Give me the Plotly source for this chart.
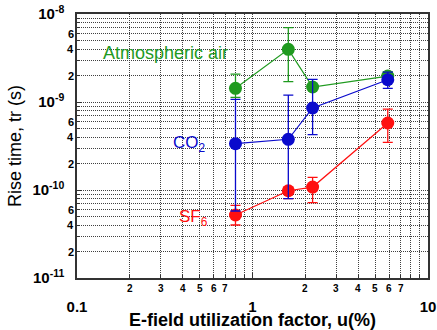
import plotly.graph_objects as go
import numpy as np

# ---- data ----
u_percent = [0.8, 1.6, 2.2, 5.9]

air_tr = [1.43e-9, 3.97e-9, 1.48e-9, 1.97e-9]
air_hi = [2.07e-9, 6.99e-9, 1.60e-9, 2.20e-9]
air_lo = [1.13e-9, 1.70e-9, 1.38e-9, 1.80e-9]

co2_tr = [3.36e-10, 3.77e-10, 8.55e-10, 1.79e-9]
co2_hi = [1.07e-9, 1.20e-9, 1.81e-9, 2.18e-9]
co2_lo = [5.77e-11, 7.96e-11, 4.25e-10, 1.43e-9]

sf6_tr = [5.2e-11, 9.8e-11, 1.08e-10, 5.77e-10]
sf6_hi = [6.7e-11, 1.07e-10, 1.39e-10, 8.3e-10]
sf6_lo = [4.0e-11, 7.96e-11, 7.2e-11, 3.48e-10]

x_major = [0.1, 1, 10]
x_major_text = ["0.1", "1", "10"]
x_minor_labels = [2, 3, 4, 5, 6, 7]

y_major = [1e-11, 1e-10, 1e-9, 1e-8]
y_major_text = ["10<sup>-11</sup>", "10<sup>-10</sup>", "10<sup>-9</sup>", "10<sup>-8</sup>"]
y_minor_labels = [2, 4, 6]

GREEN = "#1f9a1f"
BLUE = "#0a0acc"
RED = "#ff1010"
FONT = "Liberation Sans, Arial, sans-serif"


def series(x, y, hi, lo, color, name):
    y = np.array(y); hi = np.array(hi); lo = np.array(lo)
    return go.Scatter(
        x=x, y=y, mode="lines+markers", name=name,
        line=dict(color=color, width=1.2),
        marker=dict(color=color, size=13),
        error_y=dict(type="data", symmetric=False, array=hi - y, arrayminus=y - lo,
                     color=color, thickness=1.3, width=5),
        showlegend=False,
    )


fig = go.Figure()
fig.add_trace(series(u_percent, air_tr, air_hi, air_lo, GREEN, "Atmospheric air"))
fig.add_trace(series(u_percent, sf6_tr, sf6_hi, sf6_lo, RED, "SF6"))
fig.add_trace(series(u_percent, co2_tr, co2_hi, co2_lo, BLUE, "CO2"))


def minors(lo_exp, hi_exp):
    vals = []
    for e in range(lo_exp, hi_exp):
        for m in range(2, 10):
            vals.append(m * 10.0 ** e)
    return vals

grid_col = "#404040"
grid_dash = "1px,1px"
axis_col = "#333333"

fig.update_xaxes(
    type="log", range=[-1, 1], automargin=False, ticklabeloverflow="allow",
    tickmode="array", tickvals=x_major, ticktext=["<b>%s</b>" % t for t in x_major_text],
    tickfont=dict(family=FONT, size=15, color="black"),
    ticks="inside", ticklen=5, tickcolor=axis_col, ticklabelstandoff=14,
    showgrid=True, gridcolor=grid_col, griddash=grid_dash, gridwidth=1,
    minor=dict(tickmode="array", tickvals=minors(-1, 1), ticks="inside", ticklen=3,
               tickcolor=axis_col, showgrid=True, gridcolor=grid_col, griddash=grid_dash, gridwidth=1),
    showline=True, linecolor=axis_col, linewidth=1.5, mirror=True,
    title=dict(text="<b>E-field utilization factor, u(%)</b>",
               font=dict(family=FONT, size=18, color="black"), standoff=8),
    zeroline=False,
)
fig.update_yaxes(
    type="log", range=[-11, -8], automargin=False, ticklabeloverflow="allow",
    tickmode="array", tickvals=y_major, ticktext=["<b>%s</b>" % t for t in y_major_text],
    tickfont=dict(family=FONT, size=15, color="black"),
    ticks="inside", ticklen=5, tickcolor=axis_col, ticklabelstandoff=8,
    showgrid=True, gridcolor=grid_col, griddash=grid_dash, gridwidth=1,
    minor=dict(tickmode="array", tickvals=minors(-11, -8), ticks="inside", ticklen=3,
               tickcolor=axis_col, showgrid=True, gridcolor=grid_col, griddash=grid_dash, gridwidth=1),
    showline=True, linecolor=axis_col, linewidth=1.5, mirror=True,
    title=dict(text="Rise time, tr (s)", font=dict(family=FONT, size=18, color="black"), standoff=6),
    zeroline=False,
)

annos = []
for e in (-1, 0):
    for m in x_minor_labels:
        annos.append(dict(x=np.log10(m * 10.0 ** e), y=0, xref="x", yref="paper",
                          text="<b>%d</b>" % m, showarrow=False, yanchor="top", yshift=-3,
                          font=dict(family=FONT, size=10, color="black")))
for e in (-11, -10, -9):
    for m in y_minor_labels:
        annos.append(dict(x=0, y=np.log10(m * 10.0 ** e), xref="paper", yref="y",
                          text="<b>%d</b>" % m, showarrow=False, xanchor="right", xshift=-1,
                          font=dict(family=FONT, size=11, color="black")))

annos.append(dict(x=np.log10(0.1365), y=np.log10(3.6e-9), xref="x", yref="y", text="Atmospheric air",
                  showarrow=False, xanchor="left", yanchor="middle",
                  font=dict(family=FONT, size=18, color=GREEN)))
annos.append(dict(x=np.log10(0.343), y=np.log10(3.3e-10), xref="x", yref="y", text="CO<sub>2</sub>",
                  showarrow=False, xanchor="left", yanchor="middle",
                  font=dict(family=FONT, size=17, color=BLUE)))
annos.append(dict(x=np.log10(0.371), y=np.log10(4.85e-11), xref="x", yref="y", text="SF<sub>6</sub>",
                  showarrow=False, xanchor="left", yanchor="middle",
                  font=dict(family=FONT, size=17, color=RED)))

fig.update_layout(
    width=437, height=330,
    margin=dict(l=77, r=9, t=14, b=52),
    paper_bgcolor="white", plot_bgcolor="white",
    annotations=annos,
    font=dict(family=FONT),
)

# remove the browser's default 8px body margin so the figure sits at the window origin
fig.write_html("out.html", config={"displayModeBar": False},
               post_script="document.body.style.margin='0px';")
